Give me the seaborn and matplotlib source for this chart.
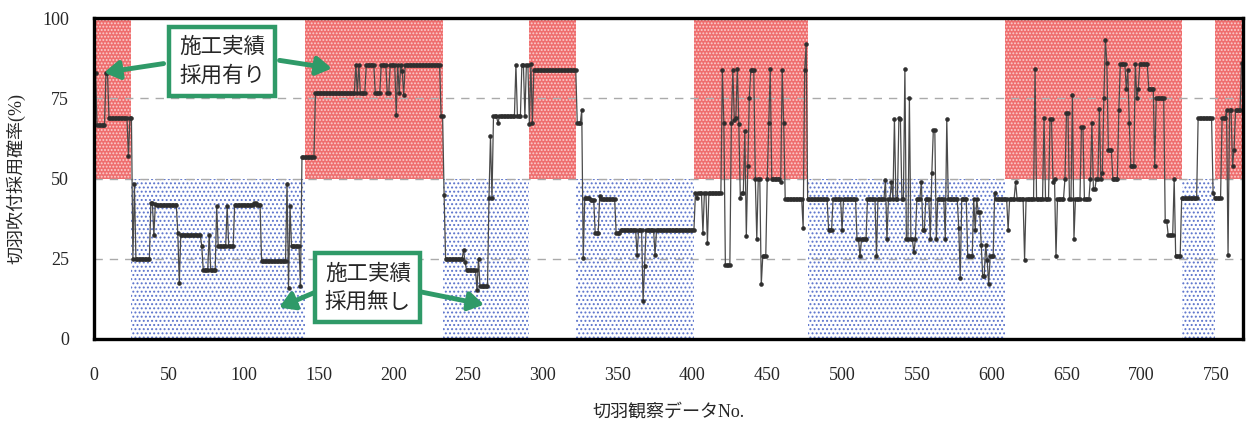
"""Face spraying adoption probability along the observation records."""

import numpy as np
import matplotlib
matplotlib.use("Agg")
import matplotlib.pyplot as plt
import seaborn as sns

# ---------------------------------------------------------------------------
# Data (read off the chart as runs: level, number of consecutive records)
# ---------------------------------------------------------------------------
levels = [
    83, 66.6, 83, 69, 57, 69,
    25, 48.3, 25, 42.3, 32.5, 42, 41.6, 33, 17.5, 32.5, 29, 21.6, 32.5, 21.6,
    41.4, 29, 41.4, 29, 41.6, 42.4, 41.6, 24.2, 48.3, 16, 41.4, 29, 16.4,
    56.8, 76.6, 85.5, 76.6, 85.5, 76.6, 85.5, 76.6, 85.5, 76.6, 85.5, 69.7,
    85.5, 76.6, 85.5, 83.5, 76, 85.5, 69.4,
    44.9, 24.9, 27.8, 24, 21.4, 15.4, 25, 16.4, 44, 63.2, 44, 69.4, 67.3,
    69.4, 85.5, 69.4, 85.5, 69.4, 85.5, 67, 85.8, 67.2,
    83.9, 67.2, 71.3,
    25.3, 43.9, 43.4, 33, 44.5, 43.6, 33, 34, 26.2, 34, 11.7, 22.8, 34, 26.2, 34,
    45.6, 44, 45.6, 33, 45.6, 30, 45.6, 83.7, 67.2, 23.1, 67.3, 83.7, 68.2, 69,
    84.2, 67, 44, 45.6, 64.8, 32.1, 54, 75, 83.7, 50, 31.2, 50, 17, 25.7, 50,
    67.2, 84, 50, 49, 83.7, 67.2, 43.6, 34.6, 83.7, 92,
    43.6, 34, 43.6, 34, 43.6, 31, 25.7, 31, 43.6, 25.9, 43.6, 49.5, 31, 43.6,
    49, 43.6, 68.5, 43.6, 69, 68.5, 43.6, 84.2, 31, 75, 31, 27, 31, 43.6, 49,
    34, 43.6, 31, 51.6, 65, 31, 43.6, 31, 68.5, 43.6, 34.6, 19, 43.6, 25.7,
    43.6, 34, 43.6, 39.7, 29.3, 19.5, 29.3, 24.7, 17, 25.7, 45.6, 43.6, 34,
    43.6, 49, 43.6, 24.7, 43.6, 84.2, 43.6, 68.7, 43.6, 68.4, 49, 50, 25.7,
    43.6, 50, 70.4, 43.6, 75.9, 31.2, 43.6, 66, 43.6, 50, 67.2, 46.7, 50, 71.5,
    50, 51.6, 75, 93.2, 86, 58.8, 50, 71.3, 85.8, 78, 83.7, 67.2, 53.9, 85.8,
    75, 78, 85.6, 78, 53.9, 75, 36.8, 32.4, 50, 25.7, 44, 68.7, 45.6, 44, 68.7,
    71.3, 26.2, 71.3, 53.9, 58.8, 71.3, 86,
]
run_lengths = [
    1, 6, 2, 13, 1, 2,
    1, 1, 10, 2, 1, 1, 14, 1, 1, 14, 1, 4, 1, 4,
    1, 6, 1, 4, 13, 2, 3, 17, 1, 1, 1, 6, 1,
    9, 27, 1, 1, 1, 4, 6, 4, 4, 2, 4, 1,
    1, 1, 1, 1, 1, 24, 2,
    1, 12, 1, 1, 7, 1, 1, 6, 1, 1, 1, 3, 1,
    11, 1, 3, 2, 1, 2, 1, 1, 1,
    29, 3, 1,
    1, 4, 3, 3, 1, 10, 3, 11, 1, 3, 1, 1, 6, 1, 26,
    1, 1, 3, 1, 2, 1, 9, 1, 1, 4, 1, 1, 1, 1,
    1, 1, 1, 2, 1, 1, 1, 1, 3, 1, 1, 2, 1, 3, 1,
    1, 1, 6, 1, 1, 1, 12, 1, 1, 1,
    14, 3, 6, 1, 9, 2, 1, 4, 6, 1, 5, 1, 1, 2,
    1, 1, 1, 2, 1, 1, 2, 1, 2, 1, 2, 1, 1, 3, 1,
    2, 3, 1, 1, 2, 1, 5, 1, 1, 7, 1, 1, 4, 4,
    1, 1, 1, 2, 1, 2, 1, 1, 1, 3, 1, 8, 1,
    4, 1, 5, 1, 6, 1, 5, 1, 3, 2, 1, 1, 1,
    5, 1, 2, 2, 1, 1, 4, 2, 4, 1, 1, 2, 2, 1,
    1, 1, 1, 1, 1, 3, 4, 1, 4, 1, 1, 1, 3, 1,
    1, 1, 6, 4, 1, 6, 2, 4, 1, 4, 11, 10, 1, 5, 3,
    1, 1, 2, 1, 1, 4, 1,
]

# spans where construction records show adoption (upper band) / no adoption (lower band)
adopted_spans = [(0, 25), (141, 233), (291, 322), (401, 477), (609, 727), (749, 768)]
not_adopted_spans = [(25, 141), (233, 291), (322, 401), (477, 609), (727, 749)]

x_ticks = list(range(0, 751, 50))
y_ticks = [0, 25, 50, 75, 100]

prob = np.repeat(levels, run_lengths)
record_no = np.arange(1, len(prob) + 1)

# ---------------------------------------------------------------------------
# Aesthetics
# ---------------------------------------------------------------------------
sns.set_style("white")
plt.rcParams["font.family"] = ["Liberation Serif", "Noto Sans CJK JP"]
plt.rcParams["hatch.linewidth"] = 0.9

GREEN = "#2f9a68"
JP = ["Noto Sans CJK JP", "DejaVu Sans"]

fig = plt.figure(figsize=(12.47, 4.25), dpi=100)
ax = fig.add_axes([0.0754, 0.2024, 0.9214, 0.7552])

for a, b in adopted_spans:
    ax.axvspan(a, b, ymin=0.5, ymax=1.0, facecolor="#ef6e6e", edgecolor="#fbd0d0",
               hatch=".....", linewidth=0, zorder=0)
for a, b in not_adopted_spans:
    ax.axvspan(a, b, ymin=0.0, ymax=0.5, facecolor="white", edgecolor="#5c74cc",
               hatch="....", linewidth=0, zorder=0)

for yv in [25, 50, 75]:
    ax.axhline(yv, color="#aaaaaa", linestyle=(0, (6, 5)), linewidth=1.0, zorder=1)

sns.lineplot(x=record_no, y=prob, ax=ax, color="#4a4a4a", linewidth=0.9,
             marker="o", markersize=2.8, markerfacecolor="#2e2e2e",
             markeredgecolor="#2e2e2e", markeredgewidth=0.4, zorder=3)

ax.set_xlim(0, 768)
ax.set_ylim(0, 100)
ax.set_xticks(x_ticks)
ax.set_yticks(y_ticks)
ax.tick_params(axis="x", direction="in", length=5, width=1, pad=20, labelsize=13)
ax.tick_params(axis="y", length=0, pad=18, labelsize=13)
for s in ax.spines.values():
    s.set_linewidth(2.4)
    s.set_color("black")
    s.set_zorder(5)

ax.set_xlabel("切羽観察データNo.", fontsize=13, labelpad=14)
ax.set_ylabel("切羽吹付採用確率(%)", fontsize=13)
ax.yaxis.set_label_coords(-0.06, 0.5)

# ---------------------------------------------------------------------------
# Call-out boxes
# ---------------------------------------------------------------------------
box = dict(boxstyle="square,pad=0.45", facecolor="white", edgecolor=GREEN, linewidth=3.2)
arrow = dict(arrowstyle="-|>,head_length=0.9,head_width=0.55", color=GREEN,
             linewidth=3.5, shrinkA=0, shrinkB=0)

ax.text(85.5, 86.5, "施工実績\n採用有り", ha="center", va="center", fontsize=15.5,
        family=JP, linespacing=1.35, bbox=box, zorder=7)
ax.annotate("", xy=(6.7, 83), xytext=(46.5, 85.8), arrowprops=arrow, zorder=6)
ax.annotate("", xy=(159, 84.3), xytext=(124, 86.8), arrowprops=arrow, zorder=6)

ax.text(183, 16, "施工実績\n採用無し", ha="center", va="center", fontsize=15.5,
        family=JP, linespacing=1.35, bbox=box, zorder=7)
ax.annotate("", xy=(123.7, 9.8), xytext=(149, 14.8), arrowprops=arrow, zorder=6)
ax.annotate("", xy=(260.7, 10.7), xytext=(217, 14.8), arrowprops=arrow, zorder=6)

fig.savefig("out.png", dpi=100)
